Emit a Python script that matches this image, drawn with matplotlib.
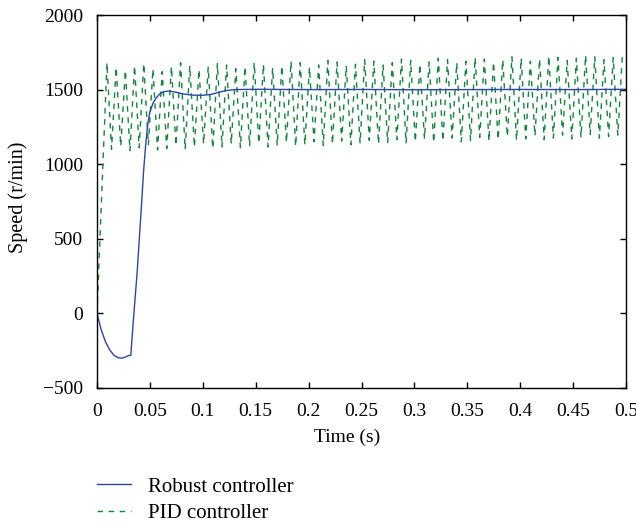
import numpy as np
import matplotlib
matplotlib.use("Agg")
import matplotlib.pyplot as plt

plt.rcParams['font.family'] = ['Liberation Serif', 'DejaVu Serif']
plt.rcParams['font.size'] = 14

# ---------------- data ----------------
# robust controller response (time in s, speed in r/min)
t_robust = [0, 0.004, 0.008, 0.012, 0.016, 0.020, 0.0235, 0.027, 0.030, 0.032,
            0.034, 0.036, 0.038, 0.040, 0.042, 0.044, 0.046, 0.048, 0.050, 0.053,
            0.056, 0.060, 0.064, 0.068, 0.075, 0.082, 0.090, 0.100, 0.108, 0.115,
            0.122, 0.130, 0.150, 0.200, 0.250, 0.300, 0.350, 0.400, 0.450, 0.500]
v_robust = [0, -110, -190, -245, -280, -297, -300, -292, -282, -280,
            -80, 100, 280, 500, 720, 950, 1130, 1270, 1350, 1410,
            1445, 1475, 1487, 1490, 1482, 1470, 1463, 1462, 1468, 1482,
            1494, 1500, 1502, 1500, 1501, 1499, 1500, 1501, 1500, 1502]

# PID controller: start, then alternating peaks / troughs of the oscillation
pid_first_peak = 0.0094   # s
pid_period = 0.0087       # s
pid_peaks = [1680, 1650, 1630, 1660, 1675, 1640, 1620, 1655, 1680, 1660,
             1635, 1650, 1675, 1665, 1640, 1655, 1680, 1670, 1645, 1660,
             1690, 1680, 1650, 1665, 1695, 1685, 1660, 1670, 1700, 1690,
             1665, 1680, 1705, 1695, 1670, 1685, 1710, 1700, 1680, 1690,
             1715, 1705, 1685, 1700, 1720, 1710, 1690, 1705, 1725, 1715,
             1695, 1710, 1730, 1720, 1700, 1715, 1735]
pid_troughs = [1100, 1120, 1090, 1110, 1130, 1095, 1105, 1125, 1100, 1115,
               1135, 1105, 1115, 1135, 1110, 1120, 1140, 1115, 1125, 1145,
               1120, 1130, 1150, 1125, 1135, 1155, 1130, 1140, 1160, 1135,
               1145, 1165, 1140, 1150, 1170, 1145, 1155, 1175, 1150, 1160,
               1180, 1155, 1165, 1185, 1160, 1170, 1190, 1165, 1175, 1195,
               1170, 1180, 1200, 1175, 1185, 1195]

x_ticks = [0, 0.05, 0.1, 0.15, 0.2, 0.25, 0.3, 0.35, 0.4, 0.45, 0.5]
x_ticklabels = ["0", "0.05", "0.1", "0.15", "0.2", "0.25", "0.3", "0.35", "0.4", "0.45", "0.5"]
y_ticks = [-500, 0, 500, 1000, 1500, 2000]

# build PID series: peaks and troughs interleaved
t_pid = [0.0]
v_pid = [0.0]
for k, p in enumerate(pid_peaks):
    tp = pid_first_peak + k * pid_period
    t_pid.append(tp)
    v_pid.append(p)
    if k < len(pid_troughs):
        t_pid.append(tp + pid_period / 2)
        v_pid.append(pid_troughs[k])

# ---------------- plot ----------------
fig = plt.figure(figsize=(6.36, 5.24), dpi=100)
ax = fig.add_axes([97 / 636, 1 - 388 / 524, 529 / 636, 373 / 524])

ax.plot(t_pid, v_pid, color='#13853c', lw=1.0, dashes=(4.0, 4.0), label="PID controller")
ax.plot(t_robust, v_robust, color='#2b46a6', lw=1.0, label="Robust controller")

ax.set_xlim(0, 0.5)
ax.set_ylim(-500, 2000)
ax.set_xticks(x_ticks)
ax.set_xticklabels(x_ticklabels)
ax.set_yticks(y_ticks)
ax.tick_params(direction='in', top=True, right=True, length=4, width=1)
ax.tick_params(axis='x', pad=10.5)
ax.tick_params(axis='y', pad=10)
for s in ax.spines.values():
    s.set_linewidth(1.0)
ax.set_xlabel("Time (s)")
ax.set_ylabel("Speed (r/min)", fontsize=14.5)
ax.xaxis.set_label_coords((348 - 97) / 530, -(437 - 388) / 373)
ax.yaxis.set_label_coords(-(97 - 18) / 530, 0.51)
ax.xaxis.label.set_va('center')
ax.yaxis.label.set_va('center')

handles, labels = ax.get_legend_handles_labels()
fig.legend(handles[::-1], labels[::-1], loc='upper left',
           bbox_to_anchor=(97 / 636, 1 - 477 / 524), frameon=False,
           borderpad=0, borderaxespad=0, fontsize=15,
           handlelength=1.65, handletextpad=0.8, labelspacing=0.35)

fig.savefig("out.png", dpi=100)
